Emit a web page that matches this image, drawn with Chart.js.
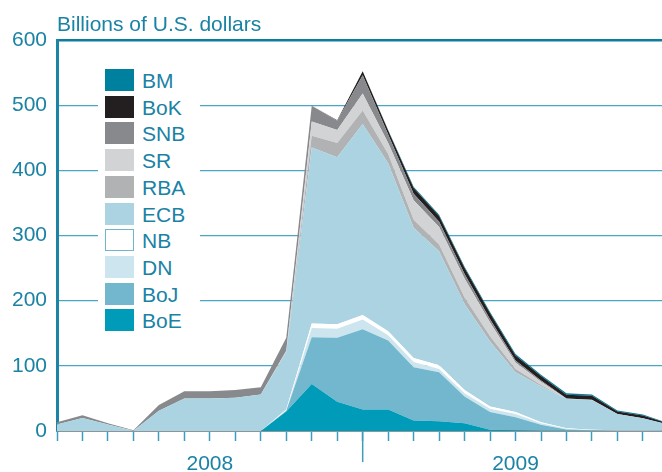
<!DOCTYPE html>
<html>
<head>
<meta charset="utf-8">
<script src="https://cdn.jsdelivr.net/npm/chart.js@4.4.1/dist/chart.umd.min.js"></script>
<style>
  body { margin: 0; background: #fff; }
  #wrap { position: relative; width: 662px; height: 472px; }
  #legend { position: absolute; left: 98px; top: 62px; width: 102px; height: 276px; background: #fff; }
  .item { position: absolute; left: 7px; height: 22px; }
  .sw { position: absolute; left: 0; top: 0; width: 29px; height: 22px; box-sizing: border-box; }
  .lb { position: absolute; left: 37px; top: 0; line-height: 22px; white-space: nowrap;
        font: 21px "Liberation Sans", Arial, sans-serif; color: #1a82a4; }
</style>
</head>
<body>
<div id="wrap">
  <canvas id="chart" width="662" height="472"></canvas>
  <div id="legend"></div>
</div>
<script>
// x positions in months from start of 2008 (last reading is mid-month)
const monthPos = [0, 1, 2, 3, 4, 5, 6, 7, 8, 9, 10, 11, 12, 13, 14, 15, 16, 17, 18, 19, 20, 21, 22, 23, 23.75]
const yearLabels = { 6: '2008', 18: '2009' }

// billions of U.S. dollars, stacked bottom to top
const BoE = [0, 0, 0, 0, 0, 0, 0, 0, 0, 30, 72, 45, 33, 33, 16, 15, 12, 2, 1, 0.5, 0.3, 0, 0, 0, 0]
const BoJ = [0, 0, 0, 0, 0, 0, 0, 0, 0, 1, 72, 98, 123, 106, 82, 75, 41, 27, 20, 9, 2, 1, 0.5, 0.3, 0.2]
const DN  = [0, 0, 0, 0, 0, 0, 0, 0, 0, 0, 14, 14, 15, 8, 8, 5, 5, 5, 5, 2.5, 1, 0.5, 0.3, 0.2, 0.1]
const NB  = [0, 0, 0, 0, 0, 0, 0, 0, 0, 2, 7, 7, 7, 6, 6, 6, 5, 3.5, 3, 1.5, 1, 0.5, 0.3, 0.2, 0.1]
const ECB = [10, 20, 10, 0.5, 31, 50, 50, 51, 56, 88, 270, 256, 293, 258, 200, 175, 132, 100, 61, 55, 45, 45, 25, 19, 12]
const RBA = [0, 0, 0, 0, 0, 0, 0, 0, 0, 1, 18, 22, 21, 14, 12, 10, 10, 8, 5, 2, 0, 0, 0, 0, 0]
const SR  = [0, 0, 0, 0, 0, 0, 0, 0, 0, 1, 22, 20, 26, 17, 30, 27, 29, 21, 10, 5, 0, 0.5, 0, 0, 0]
const SNB = [3.5, 4, 2, 0.5, 9, 11, 11, 12, 11, 20, 24, 14, 28, 13, 10, 8, 7, 5, 3, 2, 0.5, 0.5, 0, 0, 0]
const BoK = [0, 0, 0, 0, 0, 0, 0, 0, 0, 0, 0, 1, 6, 6, 9, 9, 9, 9, 8, 7, 6, 6, 4, 4, 2]
const BM  = [0, 0, 0, 0, 0, 0, 0, 0, 0, 0, 0, 0, 0, 1, 2, 2, 2, 2, 2, 2, 2, 2, 1.5, 1.5, 1]

const yTicks = [0, 100, 200, 300, 400, 500, 600]

const series = [
  { name: 'BoE', vals: BoE, color: '#009bb9' },
  { name: 'BoJ', vals: BoJ, color: '#72b7cd' },
  { name: 'DN',  vals: DN,  color: '#cde5ee' },
  { name: 'NB',  vals: NB,  color: '#ffffff', edge: '#6fb5cb' },
  { name: 'ECB', vals: ECB, color: '#acd3e1' },
  { name: 'RBA', vals: RBA, color: '#b1b2b4' },
  { name: 'SR',  vals: SR,  color: '#d2d3d5' },
  { name: 'SNB', vals: SNB, color: '#88898c' },
  { name: 'BoK', vals: BoK, color: '#231f20' },
  { name: 'BM',  vals: BM,  color: '#00809f' }
]

const teal = '#1a82a4'
const fontFam = '"Liberation Sans", Arial, sans-serif'

const datasets = series.map((s, i) => ({
  label: s.name,
  data: s.vals.map((v, j) => ({ x: monthPos[j], y: v })),
  backgroundColor: s.color,
  borderWidth: 0,
  pointRadius: 0,
  tension: 0,
  fill: i === 0 ? 'origin' : '-1'
}))

const extras = {
  id: 'extras',
  afterDraw(chart) {
    const ctx = chart.ctx
    const xs = chart.scales.x
    const area = chart.chartArea
    ctx.save()
    // year divider tick
    ctx.strokeStyle = '#3e9dbd'
    ctx.lineWidth = 1.5
    ctx.beginPath()
    const px = xs.getPixelForValue(12)
    ctx.moveTo(px, area.bottom)
    ctx.lineTo(px, area.bottom + 31)
    ctx.stroke()
    // unit title
    ctx.fillStyle = teal
    ctx.font = '21px ' + fontFam
    ctx.textBaseline = 'alphabetic'
    ctx.fillText('Billions of U.S. dollars', area.left, 30.5)
    ctx.restore()
  }
}

new Chart(document.getElementById('chart'), {
  type: 'line',
  data: { datasets },
  options: {
    responsive: false,
    animation: false,
    devicePixelRatio: 1,
    layout: { padding: { top: 40, left: 0, right: 0, bottom: 0 } },
    plugins: { legend: { display: false }, tooltip: { enabled: false } },
    scales: {
      x: {
        type: 'linear',
        min: 0,
        max: monthPos[monthPos.length - 1],
        afterFit: s => { s.height = 41 },
        grid: {
          drawOnChartArea: false,
          tickLength: 10,
          tickWidth: 1.5,
          tickColor: c => Number.isInteger(c.tick.value) ? '#3e9dbd' : 'rgba(0,0,0,0)'
        },
        border: { color: '#8f9597', width: 2 },
        ticks: {
          stepSize: 1,
          includeBounds: false,
          autoSkip: false,
          maxRotation: 0,
          minRotation: 0,
          padding: 11,
          color: teal,
          font: { family: fontFam, size: 21 },
          callback: v => yearLabels[v] || ''
        }
      },
      y: {
        stacked: true,
        min: 0,
        max: 600,
        afterFit: s => { s.width = 57 },
        afterBuildTicks: s => { s.ticks = yTicks.map(v => ({ value: v })) },
        grid: {
          drawTicks: false,
          color: c => c.tick.value === 600 ? '#0c7d9e' : (c.tick.value === 0 ? 'rgba(0,0,0,0)' : '#4aa6c2'),
          lineWidth: c => c.tick.value === 600 ? 2.5 : 1.3
        },
        border: { color: '#1a84a6', width: 3 },
        ticks: {
          padding: 10,
          color: teal,
          font: { family: fontFam, size: 21 }
        }
      }
    }
  },
  plugins: [extras]
})

// legend, top entry = top of stack
const legend = document.getElementById('legend')
series.slice().reverse().forEach((s, k) => {
  const item = document.createElement('div')
  item.className = 'item'
  item.style.top = (7 + k * 26.7) + 'px'
  const sw = document.createElement('div')
  sw.className = 'sw'
  sw.style.background = s.color
  if (s.edge) sw.style.border = '1.5px solid ' + s.edge
  const lb = document.createElement('div')
  lb.className = 'lb'
  lb.textContent = s.name
  item.appendChild(sw)
  item.appendChild(lb)
  legend.appendChild(item)
})
</script>
</body>
</html>
